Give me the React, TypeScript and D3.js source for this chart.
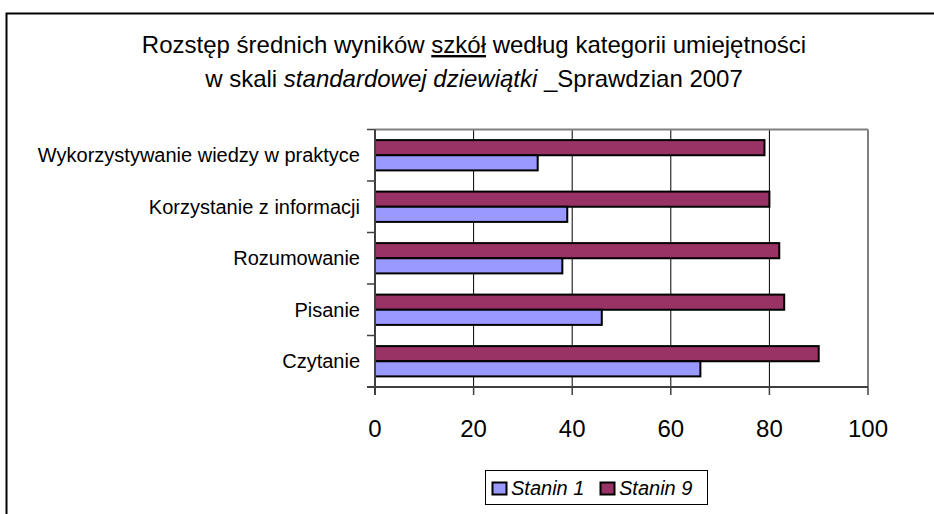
import React from "react";
import * as d3 from "d3";

const categories = [
  "Wykorzystywanie wiedzy w praktyce",
  "Korzystanie z informacji",
  "Rozumowanie",
  "Pisanie",
  "Czytanie",
];
const stanin1 = [33, 39, 38, 46, 66];
const stanin9 = [79, 80, 82, 83, 90];
const seriesNames = ["Stanin 9", "Stanin 1"];
const legendNames = ["Stanin 1", "Stanin 9"];
const xTicks = [0, 20, 40, 60, 80, 100];

const colors: Record<string, string> = {
  "Stanin 1": "#9999ff",
  "Stanin 9": "#993366",
};

const font = "'Liberation Sans', Arial, sans-serif";

export default function App() {
  const width = 934;
  const height = 514;
  const margin = { top: 129.5, left: 375, bottom: 127, right: 66 };
  const iwidth = width - margin.left - margin.right;
  const iheight = height - margin.top - margin.bottom;

  const x = d3.scaleLinear().domain([0, 100]).range([0, iwidth]);
  const y = d3.scaleBand().domain(categories).range([0, iheight]);
  // two bars inside every category band
  const inner = d3
    .scaleBand()
    .domain(seriesNames)
    .range([0, y.step()])
    .paddingOuter(0.7);

  const rows = categories.map((c, i) => ({
    name: c,
    values: [
      { key: "Stanin 9", value: stanin9[i] },
      { key: "Stanin 1", value: stanin1[i] },
    ],
  }));

  const bandEdges = categories.map((c) => y(c) as number).concat([iheight]);

  return (
    <svg
      width={width}
      height={height}
      style={{ position: "absolute", left: 0, top: 0, background: "#fff" }}
    >
      {/* chart frame */}
      <rect x={6.5} y={13.5} width={940} height={520} fill="#fff" stroke="#000" strokeWidth={2} />

      {/* title */}
      <text x={474} y={53} textAnchor="middle" fontFamily={font} fontSize={24} fill="#000">
        Rozstęp średnich wyników <tspan textDecoration="underline">szkół</tspan> według kategorii umiejętności
      </text>
      <text x={474} y={87} textAnchor="middle" fontFamily={font} fontSize={24} fill="#000">
        w skali <tspan fontStyle="italic">standardowej dziewiątki</tspan> _Sprawdzian 2007
      </text>

      <g transform={`translate(${margin.left},${margin.top})`}>
        {/* gridlines */}
        {xTicks.slice(1, -1).map((t) => (
          <line key={t} x1={x(t)} x2={x(t)} y1={0} y2={iheight} stroke="#000" strokeWidth={1} />
        ))}

        {/* plot border top/right */}
        <line x1={0} x2={iwidth} y1={0} y2={0} stroke="#808080" strokeWidth={2} />
        <line x1={iwidth} x2={iwidth} y1={0} y2={iheight} stroke="#808080" strokeWidth={2} />

        {/* bars */}
        {rows.map((r) => (
          <g key={r.name} transform={`translate(0,${y(r.name)})`}>
            {r.values.map((v) => (
              <rect
                key={v.key}
                x={0}
                y={inner(v.key)}
                width={x(v.value)}
                height={inner.bandwidth()}
                fill={colors[v.key]}
                stroke="#000"
                strokeWidth={2}
              />
            ))}
          </g>
        ))}

        {/* y axis */}
        <line x1={0} x2={0} y1={0} y2={iheight + 8} stroke="#404040" strokeWidth={2} />
        {bandEdges.map((e, i) => (
          <line key={i} x1={-8} x2={0} y1={e} y2={e} stroke="#404040" strokeWidth={1.5} />
        ))}
        {categories.map((c) => (
          <text
            key={c}
            x={-15}
            y={(y(c) as number) + y.bandwidth() / 2}
            dy="0.35em"
            textAnchor="end"
            fontFamily={font}
            fontSize={20}
            fill="#000"
          >
            {c}
          </text>
        ))}

        {/* x axis */}
        <line x1={-8} x2={iwidth} y1={iheight} y2={iheight} stroke="#404040" strokeWidth={2} />
        {xTicks.map((t) => (
          <g key={t} transform={`translate(${x(t)},${iheight})`}>
            <line y1={0} y2={8} stroke="#404040" strokeWidth={1.5} />
            <text y={50} textAnchor="middle" fontFamily={font} fontSize={24} fill="#000">
              {t}
            </text>
          </g>
        ))}
      </g>

      {/* legend */}
      <rect x={485.5} y={470.5} width={222} height={34} fill="#fff" stroke="#000" strokeWidth={1} />
      {legendNames.map((k, i) => (
        <g key={k} transform={`translate(${492 + i * 108},482)`}>
          <rect x={0.5} y={0.5} width={14} height={12} fill={colors[k]} stroke="#000" strokeWidth={2} />
          <text x={19} y={13} fontFamily={font} fontSize={20} fontStyle="italic" fill="#000">
            {k}
          </text>
        </g>
      ))}
    </svg>
  );
}
